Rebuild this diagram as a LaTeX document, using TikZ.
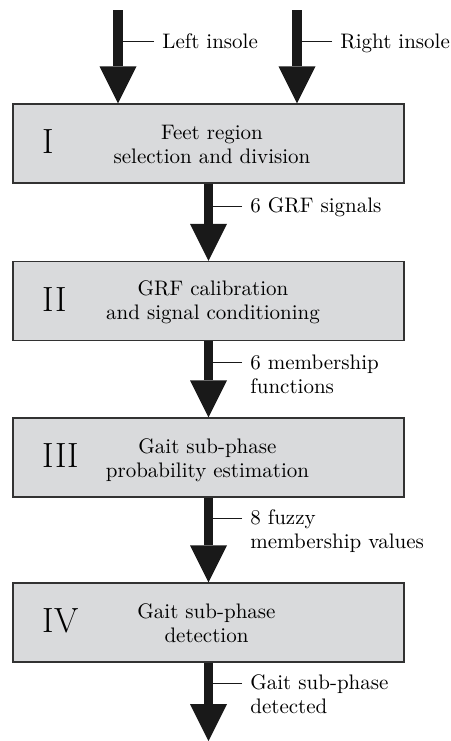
\documentclass[tikz,border=0pt]{standalone}
\usetikzlibrary{arrows.meta,calc}
\definecolor{boxgray}{RGB}{217,218,220}
\definecolor{edgegray}{RGB}{50,50,50}
\definecolor{arrowblack}{RGB}{25,25,25}
\begin{document}
\begin{tikzpicture}[x=0.5pt,y=-0.5pt,
  font=\fontsize{10.5pt}{12pt}\selectfont,
  stage/.style={draw=edgegray, line width=0.7pt, fill=boxgray,
    minimum width=195.5pt, minimum height=39.5pt, inner sep=0pt},
  numeral/.style={anchor=base west, inner sep=0pt, font=\fontsize{17.5pt}{20pt}\selectfont},
  boxtext/.style={anchor=base, inner sep=0pt},
  flow/.style={draw=arrowblack, line width=4.75pt,
    -{Triangle[width=18.5pt,length=18.5pt,line width=0pt]}},
  tick/.style={draw=arrowblack, line width=0.6pt},
  lab/.style={anchor=base west, inner sep=0pt}]
\useasboundingbox (0,0) rectangle (451,741);

% stage boxes
\node[stage] (I)   at (208.5,143.5) {};
\node[stage] (II)  at (208.5,301)   {};
\node[stage] (III) at (208.5,457.5) {};
\node[stage] (IV)  at (208.5,622.5) {};

% roman numerals
\node[numeral] (nI)   at ($(I.west)+(30,10)$)   {I};
\node[numeral] (nII)  at ($(II.west)+(30,10)$)  {II};
\node[numeral] (nIII) at ($(III.west)+(30,10)$) {III};
\node[numeral] (nIV)  at ($(IV.west)+(30,10)$)  {IV};

% box texts
\node[boxtext] (tI) at ($(I.center)+(3.5,-4.5)$)
  {\begin{tabular}[t]{@{}c@{}}Feet region\\selection and division\end{tabular}};
\node[boxtext] (tII) at ($(II.center)+(4.5,-6)$)
  {\begin{tabular}[t]{@{}c@{}}GRF calibration\\and signal conditioning\end{tabular}};
\node[boxtext] (tIII) at ($(III.center)+(-1,-4.5)$)
  {\begin{tabular}[t]{@{}c@{}}Gait sub-phase\\probability estimation\end{tabular}};
\node[boxtext] (tIV) at ($(IV.center)+(-2,-4.5)$)
  {\begin{tabular}[t]{@{}c@{}}Gait sub-phase\\detection\end{tabular}};

% free ends of the flow arrows
\coordinate (inL) at (118,10);
\coordinate (inR) at (297,10);
\coordinate (out) at (208.5,741);

% flow arrows
\draw[flow] (inL) -- (inL |- I.north);
\draw[flow] (inR) -- (inR |- I.north);
\draw[flow] (I.south) -- (II.north);
\draw[flow] (II.south) -- (III.north);
\draw[flow] (III.south) -- (IV.north);
\draw[flow] (IV.south) -- (out);

% labels
\node[lab] (lL) at (162,48) {Left insole};
\node[lab] (lR) at (340,48) {Right insole};
\node[lab] (l1) at ($(I.south)+(41.5,29)$) {6 GRF signals};
\node[lab] (l2) at ($(II.south)+(41.5,28)$)
  {\begin{tabular}[t]{@{}l@{}}6 membership\\functions\end{tabular}};
\node[lab] (l3) at ($(III.south)+(41.5,27)$)
  {\begin{tabular}[t]{@{}l@{}}8 fuzzy\\membership values\end{tabular}};
\node[lab] (l4) at ($(IV.south)+(41.5,27)$)
  {\begin{tabular}[t]{@{}l@{}}Gait sub-phase\\detected\end{tabular}};

% label ticks
\foreach \lb/\ax in {lL/inL, lR/inR, l1/I.south, l2/II.south, l3/III.south, l4/IV.south}{
  \coordinate (t\lb) at ($(\lb.base west)+(-8,-6.5)$);
  \draw[tick] (t\lb) -- (t\lb -| \ax);
}
\end{tikzpicture}
\end{document}
